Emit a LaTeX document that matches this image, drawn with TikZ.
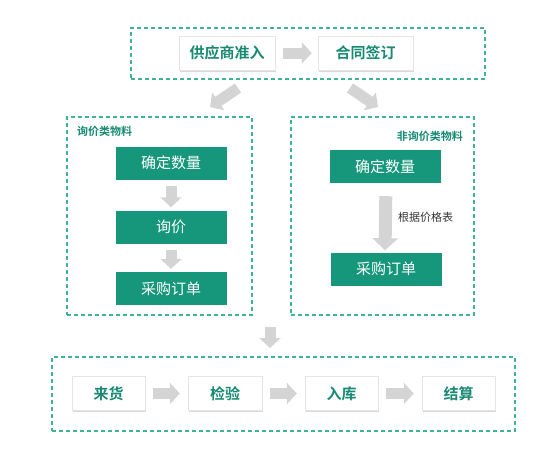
\documentclass[tikz,border=0pt]{standalone}
\usepackage{fontspec}
\newfontfamily\cjk[BoldFont={Noto Sans CJK SC Bold}]{Noto Sans CJK SC}
\usetikzlibrary{arrows.meta,shadows}

\definecolor{tealfill}{RGB}{22,150,122}
\definecolor{tealtext}{RGB}{24,138,115}
\definecolor{tealdash}{RGB}{62,180,150}
\definecolor{arrowgray}{RGB}{212,212,212}

\begin{document}
\begin{tikzpicture}[x=1pt,y=-1pt,
    groupbox/.style={draw=tealdash, line width=1.2pt, dash pattern=on 4pt off 3pt,
      minimum width=#1, inner sep=0pt},
    whitebox/.style={fill=white, draw=gray!20, text=tealtext, font=\cjk\bfseries\fontsize{15}{15}\selectfont,
      minimum height=34pt, drop shadow={shadow xshift=1.2pt, shadow yshift=-1.8pt, opacity=0.3}},
    greenbox/.style={fill=tealfill, text=white, font=\cjk\fontsize{15}{15}\selectfont,
      minimum width=111pt, minimum height=33pt},
    grouplabel/.style={text=tealtext, font=\cjk\bfseries\fontsize{11}{11}\selectfont, inner sep=0pt},
    blockarrow/.style={draw=arrowgray, line width=11pt, -{Triangle[length=10pt,width=21pt]}}]
  \useasboundingbox (0,0) rectangle (552,451);

  \node[groupbox=354pt, minimum height=51pt] (top) at (308,53.5) {};
  \node[groupbox=185pt, minimum height=198pt] (left) at (159.5,216) {};
  \node[groupbox=183pt, minimum height=198pt] (right) at (382.5,216) {};
  \node[groupbox=463pt, minimum height=74pt] (bottom) at (283.5,394) {};

  \node[whitebox, minimum width=96pt] (gys) at (227,53) {供应商准入};
  \node[whitebox, minimum width=95pt] (htqd) at (365.5,53) {合同签订};
  \draw[blockarrow, shorten <=8pt, shorten >=6pt] (gys) -- (htqd);

  \coordinate (l1) at (238,88);
  \coordinate (l2) at (210,107);
  \coordinate (r1) at (350,88);
  \coordinate (r2) at (378,107);
  \draw[blockarrow] (l1) -- (l2);
  \draw[blockarrow] (r1) -- (r2);

  \node[grouplabel, anchor=west] (lname) at (77,131) {询价类物料};
  \node[greenbox] (lsl) at (171,163) {确定数量};
  \node[greenbox] (lxj) at (171,227) {询价};
  \node[greenbox] (lcg) at (171,288.5) {采购订单};
  \draw[blockarrow, shorten <=6pt, shorten >=3pt] (lsl) -- (lxj);
  \draw[blockarrow, shorten <=6pt, shorten >=3pt] (lxj) -- (lcg);

  \node[grouplabel, anchor=east] (rname) at (463,136) {非询价类物料};
  \node[greenbox] (rsl) at (385,166.5) {确定数量};
  \node[greenbox] (rcg) at (386,269) {采购订单};
  \draw[blockarrow, line width=13pt, -{Triangle[length=12pt,width=25pt]}, shorten <=13pt, shorten >=2pt] (rsl.south -| rcg) -- (rcg.north -| rsl) node[grouplabel, midway, right=6pt, text=black!80, font=\cjk\fontsize{11}{11}\selectfont] (jgb) {根据价格表};

  \coordinate (m1) at (270,327);
  \coordinate (m2) at (270,348);
  \draw[blockarrow] (m1) -- (m2);

  \node[whitebox, minimum width=73pt] (lh) at (108.5,393.5) {来货};
  \node[whitebox, minimum width=74pt] (jy) at (225,393.5) {检验};
  \node[whitebox, minimum width=73pt] (rk) at (341.5,393.5) {入库};
  \node[whitebox, minimum width=73pt] (js) at (458.5,393.5) {结算};
  \draw[blockarrow, shorten <=8pt, shorten >=8pt] (lh) -- (jy);
  \draw[blockarrow, shorten <=8pt, shorten >=8pt] (jy) -- (rk);
  \draw[blockarrow, shorten <=8pt, shorten >=8pt] (rk) -- (js);
\end{tikzpicture}
\end{document}
